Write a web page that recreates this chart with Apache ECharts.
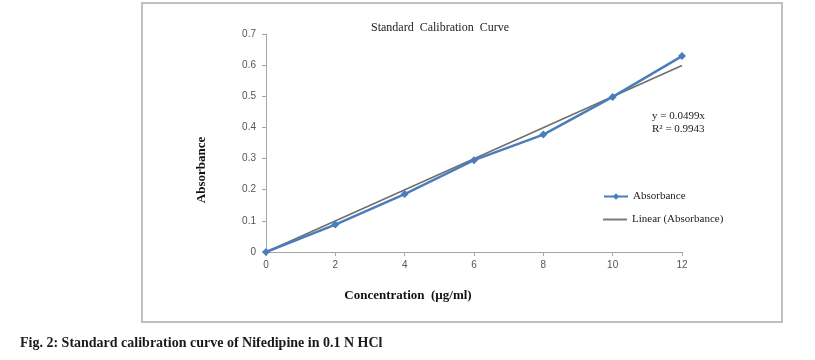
<!DOCTYPE html>
<html><head><meta charset="utf-8">
<script src="https://cdn.jsdelivr.net/npm/echarts@6/dist/echarts.min.js"></script>
<style>html,body{margin:0;padding:0;background:#fff}#c{width:815px;height:360px}</style>
</head><body><div id="c"></div>
<script>
const concentration = [0, 2, 4, 6, 8, 10, 12];
const absorbance = [0, 0.088, 0.186, 0.295, 0.377, 0.498, 0.629];
const trendX = [0, 12];
const trendY = [0, 0.599];
const xTicks = { min: 0, max: 12, interval: 2 };
const yTicks = { min: 0, max: 0.7, interval: 0.1 };

const chart = echarts.init(document.getElementById('c'), null, { renderer: 'canvas' });
const serif = '"Liberation Serif", "DejaVu Serif", serif';
const sans = '"Liberation Sans", Arial, sans-serif';
chart.setOption({
  animation: false,
  backgroundColor: '#fff',
  title: {
    text: 'Standard  Calibration  Curve',
    left: 435, top: 17, textAlign: 'center',
    textStyle: { fontFamily: serif, fontSize: 12, fontWeight: 'normal', color: '#222' }
  },
  legend: [
    {
      orient: 'vertical', left: 598, top: 186,
      itemWidth: 24, itemHeight: 8,
      textStyle: { fontFamily: serif, fontSize: 11, color: '#222' },
      data: ['Absorbance']
    },
    {
      orient: 'vertical', left: 598, top: 209,
      itemWidth: 24, itemHeight: 2, icon: 'rect',
      textStyle: { fontFamily: serif, fontSize: 11, color: '#222' },
      data: ['Linear (Absorbance)']
    }
  ],
  grid: { left: 266, right: 133, top: 34, bottom: 108, containLabel: false },
  xAxis: {
    type: 'value', min: xTicks.min, max: xTicks.max, interval: xTicks.interval,
    axisLine: { lineStyle: { color: '#a6a6a6', width: 1 } },
    axisTick: { show: true, length: 4, lineStyle: { color: '#a6a6a6' } },
    axisLabel: { fontFamily: sans, fontSize: 10, color: '#555', margin: 8 },
    splitLine: { show: false }
  },
  yAxis: {
    type: 'value', min: yTicks.min, max: yTicks.max, interval: yTicks.interval,
    axisLine: { show: true, lineStyle: { color: '#a6a6a6', width: 1 } },
    axisTick: { show: true, length: 4, lineStyle: { color: '#a6a6a6' } },
    axisLabel: { fontFamily: sans, fontSize: 10, color: '#555', margin: 10,
      formatter: v => String(Math.round(v * 10) / 10) },
    splitLine: { show: false }
  },
  series: [
    {
      name: 'Absorbance', type: 'line',
      data: concentration.map((x, i) => [x, absorbance[i]]),
      symbol: 'diamond', symbolSize: 8,
      lineStyle: { color: '#4a7ebb', width: 2.5 },
      itemStyle: { color: '#4a7ebb' },
      z: 3
    },
    {
      name: 'Linear (Absorbance)', type: 'line',
      data: trendX.map((x, i) => [x, trendY[i]]),
      symbol: 'none',
      lineStyle: { color: '#6e6e6e', width: 1.5 },
      itemStyle: { color: '#7a7a7a' },
      z: 2
    }
  ],
  graphic: [
    { type: 'rect', shape: { x: 142, y: 3, width: 640, height: 319 },
      style: { fill: null, stroke: '#c0c0c0', lineWidth: 2 }, silent: true },
    { type: 'text', x: 408, y: 296,
      style: { text: 'Concentration  (µg/ml)', font: 'bold 13px ' + serif, fill: '#111',
        textAlign: 'center', textVerticalAlign: 'middle' } },
    { type: 'text', x: 202, y: 170, rotation: Math.PI / 2,
      style: { text: 'Absorbance', font: 'bold 13px ' + serif, fill: '#111',
        textAlign: 'center', textVerticalAlign: 'middle' } },
    { type: 'text', left: 652, top: 110,
      style: { text: 'y = 0.0499x\nR² = 0.9943', font: '11px ' + serif, fill: '#222', lineHeight: 13 } },
    { type: 'text', left: 20, top: 336,
      style: { text: 'Fig. 2: Standard calibration curve of Nifedipine in 0.1 N HCl', font: 'bold 14px ' + serif, fill: '#1a1a1a' } }
  ]
});
</script></body></html>
